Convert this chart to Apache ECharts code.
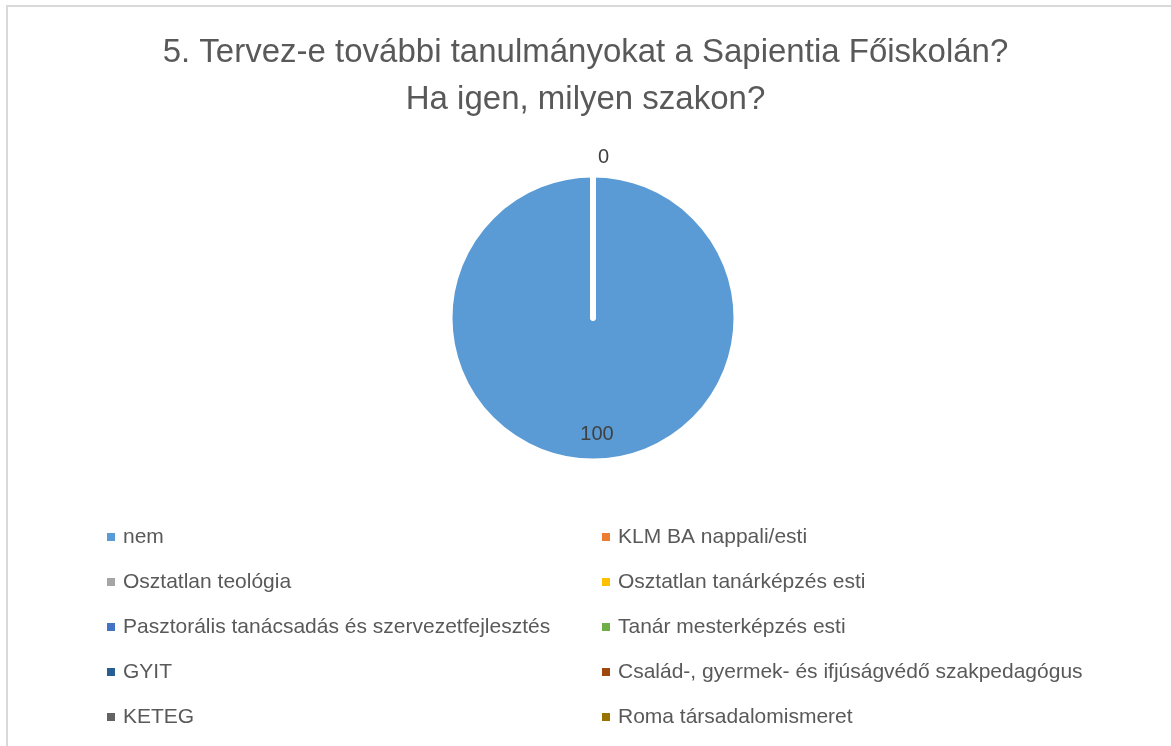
<!DOCTYPE html>
<html>
<head>
<meta charset="utf-8">
<script src="https://cdn.jsdelivr.net/npm/echarts@6/dist/echarts.min.js"></script>
<style>
  html, body { margin: 0; padding: 0; background: #fff; }
  #main { position: absolute; left: 0; top: 0; width: 1171px; height: 746px; }
  #frame { position: absolute; left: 6px; top: 5px; width: 1200px; height: 800px;
           border-left: 2px solid #d9d9d9; border-top: 2px solid #d9d9d9; pointer-events: none; }
</style>
</head>
<body>
<div id="main"></div>
<div id="frame"></div>
<script>
const titleText = '5. Tervez-e további tanulmányokat a Sapientia Főiskolán?\nHa igen, milyen szakon?'
const categories = [
  'nem',
  'KLM BA nappali/esti',
  'Osztatlan teológia',
  'Osztatlan tanárképzés esti',
  'Pasztorális tanácsadás és szervezetfejlesztés',
  'Tanár mesterképzés esti',
  'GYIT',
  'Család-, gyermek- és ifjúságvédő szakpedagógus',
  'KETEG',
  'Roma társadalomismeret'
]
const values = [100, 0, 0, 0, 0, 0, 0, 0, 0, 0]
const colors = ['#5B9BD5', '#ED7D31', '#A5A5A5', '#FFC000', '#4472C4',
  '#70AD47', '#255E91', '#9E480E', '#636363', '#997300']

const myChart = echarts.init(document.getElementById('main'))
const font = '"Liberation Sans", "DejaVu Sans", sans-serif'

// zero-value slices get their label outside at the top, the rest inside
const pieData = categories.map((name, i) => {
  const item = { name: name, value: values[i], itemStyle: { color: colors[i] } }
  if (values[i] > 0) {
    item.label = { position: 'inside', offset: [4, 42] }
  } else {
    item.label = { position: 'outside' }
  }
  return item
})

const legendText = { color: '#595959', fontSize: 21, fontFamily: font, lineHeight: 22, padding: [0, 0, 0, 3] }

function makeLegend (left, names) {
  return {
    orient: 'vertical',
    left: left,
    top: 526,
    padding: 0,
    itemWidth: 8,
    itemHeight: 8,
    itemGap: 23,
    icon: 'rect',
    itemStyle: { borderWidth: 0 },
    selectedMode: false,
    data: names,
    textStyle: legendText
  }
}

const option = {
  backgroundColor: '#ffffff',
  animation: false,
  color: colors,
  title: {
    text: titleText,
    left: 'center',
    top: 24,
    textStyle: {
      color: '#595959',
      fontSize: 33,
      fontWeight: 'normal',
      fontFamily: font,
      lineHeight: 47
    }
  },
  legend: [
    makeLegend(107, categories.filter((c, i) => i % 2 === 0)),
    makeLegend(602, categories.filter((c, i) => i % 2 === 1))
  ],
  series: [
    {
      type: 'pie',
      center: [593, 318],
      radius: 143,
      startAngle: 90,
      clockwise: true,
      avoidLabelOverlap: false,
      stillShowZeroSum: true,
      minShowLabelAngle: 0,
      itemStyle: { borderColor: '#ffffff', borderWidth: 5 },
      label: {
        show: true,
        formatter: '{c}',
        color: '#404040',
        fontSize: 20,
        fontFamily: font
      },
      labelLine: { show: false, length: 18, length2: 0 },
      emphasis: { disabled: true },
      data: pieData
    }
  ]
}
myChart.setOption(option)
</script>
</body>
</html>
